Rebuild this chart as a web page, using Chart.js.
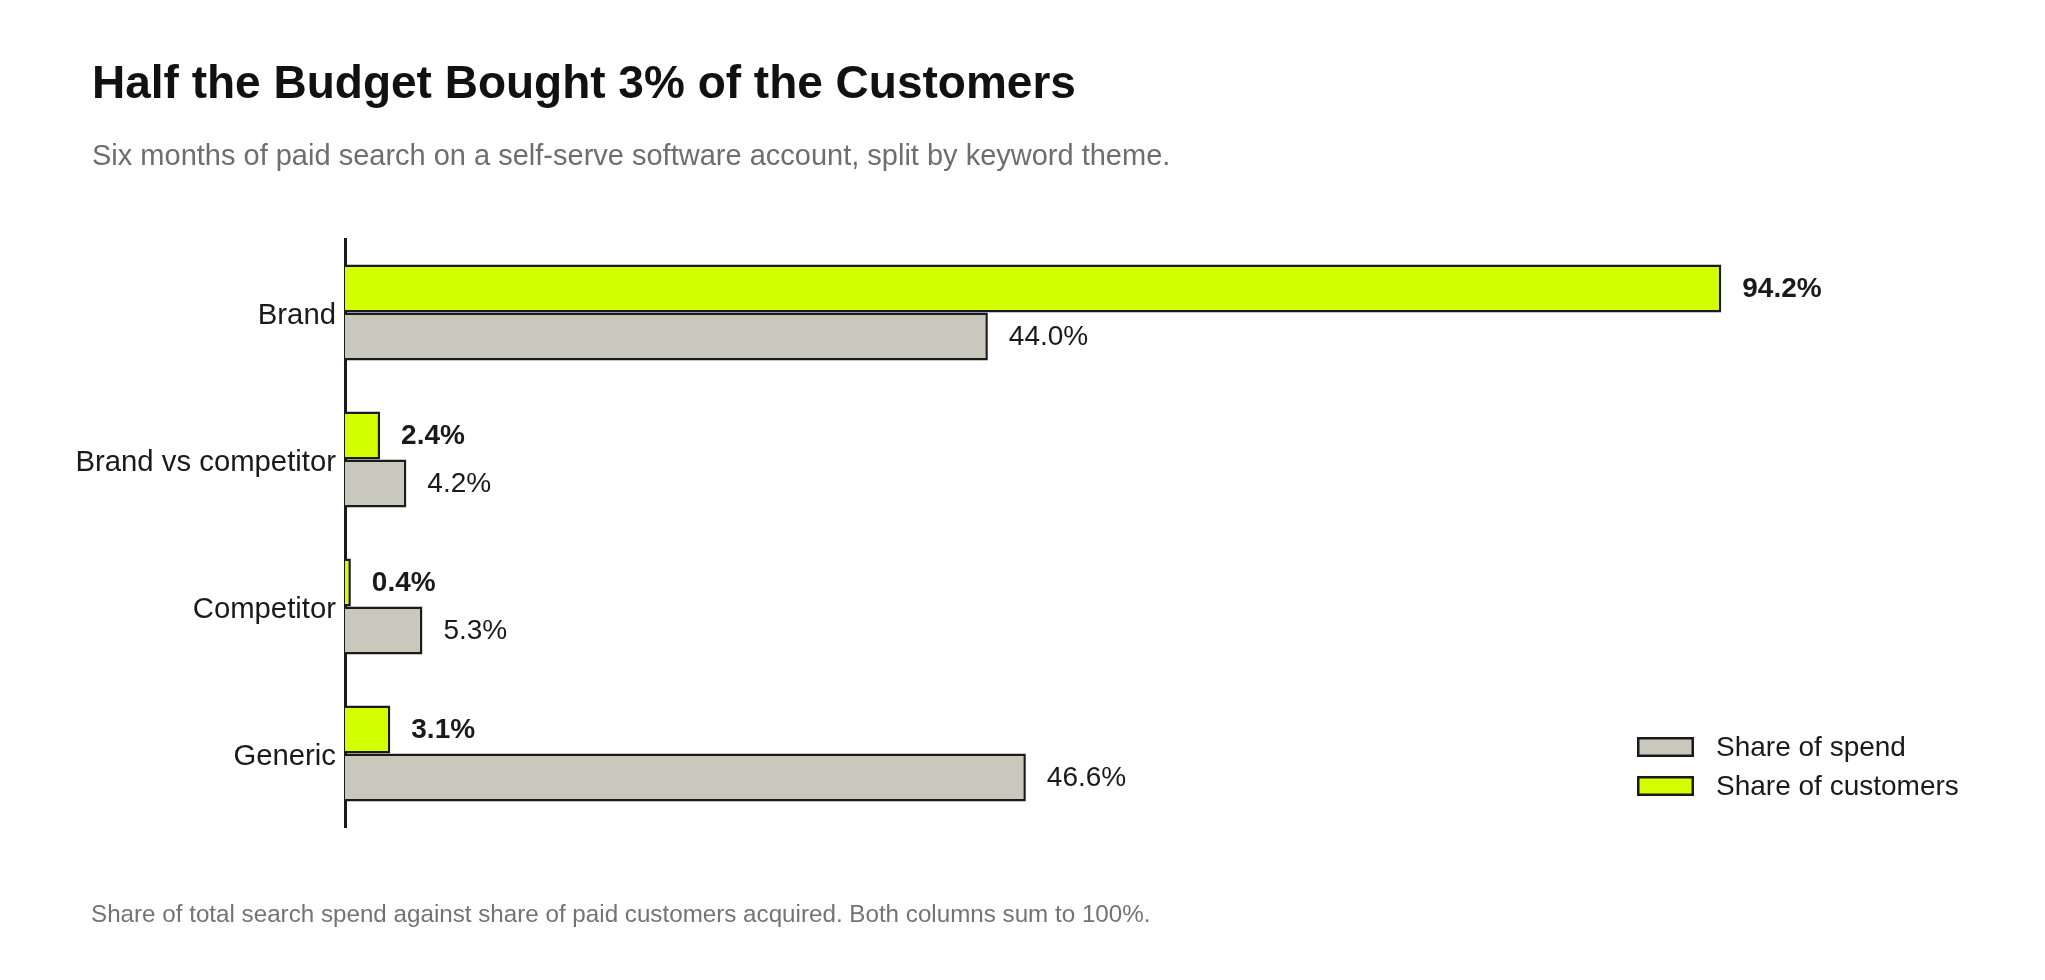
<!DOCTYPE html>
<html lang="en">
<head>
<meta charset="utf-8">
<title>Half the Budget Bought 3% of the Customers</title>
<script src="https://cdn.jsdelivr.net/npm/chart.js@4.4.1/dist/chart.umd.min.js"></script>
<style>
    html, body {
        margin: 0;
        padding: 0;
        background: #ffffff;
    }
    #wrap {
        position: relative;
        width: 2045px;
        height: 980px;
    }
</style>
</head>
<body>
<div id="wrap">
    <canvas id="spendChart"></canvas>
</div>

<script>
    "use strict";

    // Chart data
    const themes = ['Brand', 'Brand vs competitor', 'Competitor', 'Generic'];
    const shareOfSpend = [44.0, 4.2, 5.3, 46.6];
    const shareOfCustomers = [94.2, 2.4, 0.4, 3.1];

    const FONT = "'Liberation Sans', Arial, Helvetica, sans-serif";
    const INK = '#1a1a1a';
    const GREEN = '#d4ff00';
    const GREY = '#c8c8bd';

    // Value labels at the end of each bar
    const barLabels = {
        id: 'barLabels',
        afterDatasetsDraw(chart) {
            const ctx = chart.ctx;
            ctx.save();
            ctx.fillStyle = INK;
            ctx.textAlign = 'left';
            ctx.textBaseline = 'middle';
            chart.data.datasets.forEach((dataset, i) => {
                const meta = chart.getDatasetMeta(i);
                ctx.font = (dataset.boldLabels ? 'bold ' : '') + '28px ' + FONT;
                meta.data.forEach((bar, j) => {
                    ctx.fillText(dataset.data[j].toFixed(1) + '%', bar.x + 21, bar.y + 1);
                });
            });
            ctx.restore();
        }
    };

    // Title, subtitle, legend and footnote
    const extras = {
        id: 'extras',
        afterDraw(chart) {
            const ctx = chart.ctx;
            const area = chart.chartArea;
            ctx.save();
            ctx.textAlign = 'left';
            ctx.textBaseline = 'alphabetic';

            // heading
            ctx.fillStyle = '#111111';
            ctx.font = 'bold 46px ' + FONT;
            ctx.fillText('Half the Budget Bought 3% of the Customers', 92, 98);
            ctx.fillStyle = '#6e6e6e';
            ctx.font = '29px ' + FONT;
            ctx.fillText('Six months of paid search on a self-serve software account, split by keyword theme.', 92, 165);

            // legend, spend first
            const items = [chart.data.datasets[1], chart.data.datasets[0]];
            let y = area.bottom - 90;
            items.forEach(item => {
                const x = area.right - 169;
                ctx.fillStyle = item.backgroundColor;
                ctx.fillRect(x, y, 57, 20);
                ctx.strokeStyle = INK;
                ctx.lineWidth = 2.5;
                ctx.strokeRect(x + 1.25, y + 1.25, 54.5, 17.5);
                ctx.fillStyle = INK;
                ctx.font = '28px ' + FONT;
                ctx.textBaseline = 'middle';
                ctx.fillText(item.label, x + 79, y + 11);
                y += 39;
            });

            // footnote
            ctx.fillStyle = '#737373';
            ctx.font = '24.2px ' + FONT;
            ctx.textBaseline = 'alphabetic';
            ctx.fillText('Share of total search spend against share of paid customers acquired. Both columns sum to 100%.', 91, 922);
            ctx.restore();
        }
    };

    const ctx = document.getElementById('spendChart');
    new Chart(ctx, {
        type: 'bar',
        data: {
            labels: themes,
            datasets: [{
                label: 'Share of customers',
                data: shareOfCustomers,
                backgroundColor: GREEN,
                borderColor: INK,
                borderWidth: 2.5,
                boldLabels: true
            }, {
                label: 'Share of spend',
                data: shareOfSpend,
                backgroundColor: GREY,
                borderColor: INK,
                borderWidth: 2.5,
                boldLabels: false
            }]
        },
        options: {
            indexAxis: 'y',
            responsive: true,
            maintainAspectRatio: false,
            animation: false,
            datasets: {
                bar: {
                    barPercentage: 1,
                    categoryPercentage: 0.652
                }
            },
            layout: {
                padding: { left: 40, right: 239, top: 239, bottom: 153 }
            },
            plugins: {
                legend: { display: false },
                tooltip: { enabled: false }
            },
            scales: {
                x: {
                    display: false,
                    min: 0,
                    max: 100
                },
                y: {
                    grid: { display: false },
                    border: { display: true, color: INK, width: 3 },
                    ticks: {
                        color: INK,
                        padding: 1,
                        labelOffset: 3,
                        font: { family: FONT, size: 29.3 }
                    },
                    afterFit(scale) {
                        scale.width = 305;
                    }
                }
            }
        },
        plugins: [barLabels, extras]
    });
</script>
</body>
</html>
